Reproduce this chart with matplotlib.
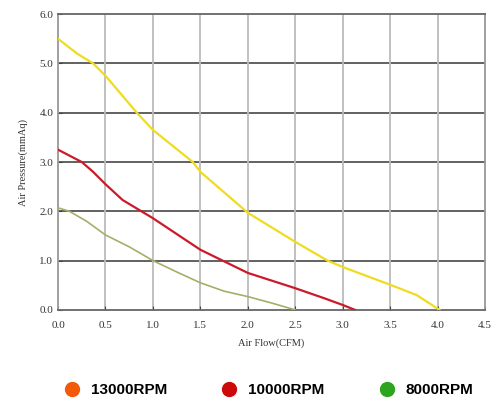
import matplotlib.pyplot as plt
from matplotlib.lines import Line2D

# Data
flow_13000 = [0.0, 0.2, 0.37, 0.5, 0.83, 1.0, 1.42, 1.5, 2.0, 2.5, 2.84, 3.0, 3.5, 3.78, 4.02]
pres_13000 = [5.5, 5.2, 5.0, 4.75, 4.0, 3.65, 3.0, 2.8, 1.97, 1.38, 1.0, 0.87, 0.51, 0.3, 0.0]

flow_10000 = [0.0, 0.1, 0.25, 0.37, 0.5, 0.68, 1.0, 1.5, 2.0, 2.5, 2.8, 3.0, 3.13]
pres_10000 = [3.25, 3.15, 3.0, 2.8, 2.55, 2.23, 1.86, 1.22, 0.75, 0.44, 0.24, 0.1, 0.0]

flow_8000 = [0.0, 0.12, 0.3, 0.5, 0.75, 1.0, 1.25, 1.5, 1.75, 2.0, 2.25, 2.5]
pres_8000 = [2.07, 2.0, 1.8, 1.52, 1.28, 1.0, 0.77, 0.55, 0.38, 0.27, 0.14, 0.0]

legend_labels = ['13000RPM', '10000RPM', '8000RPM']
legend_colors = ['#f25a0a', '#cc0a0a', '#2ea51e']

xticks = [0.0, 0.5, 1.0, 1.5, 2.0, 2.5, 3.0, 3.5, 4.0, 4.5]
yticks = [0.0, 1.0, 2.0, 3.0, 4.0, 5.0, 6.0]

fig = plt.figure(figsize=(4.96, 4.03), dpi=100)
ax = fig.add_axes([0.117, 0.231, 0.861, 0.734])

ax.plot(flow_13000, pres_13000, color='#f0dc1e', lw=1.6, zorder=3)
ax.plot(flow_10000, pres_10000, color='#cc1a2a', lw=1.6, zorder=3)
ax.plot(flow_8000, pres_8000, color='#a8ad6a', lw=1.2, zorder=3)

ax.set_xlim(0, 4.5)
ax.set_ylim(0, 6)
ax.set_xticks(xticks)
ax.set_yticks(yticks)
ax.set_xticklabels([f'{t:.1f}' for t in xticks])
ax.set_yticklabels([f'{t:.1f}' for t in yticks])

# horizontal grid dark, vertical grid light
for y in yticks[1:-1]:
    ax.axhline(y, color='#555555', lw=1.3, zorder=1)
for x in xticks[1:-1]:
    ax.axvline(x, color='#bbbbbb', lw=1.3, zorder=1)

for side in ['top', 'bottom']:
    ax.spines[side].set_color('#666666')
    ax.spines[side].set_linewidth(1.3)
for side in ['left', 'right']:
    ax.spines[side].set_color('#999999')
    ax.spines[side].set_linewidth(1.3)

ax.tick_params(direction='in', length=3, color='#444444', labelsize=8,
               labelcolor='#333333')
for lbl in ax.get_xticklabels() + ax.get_yticklabels():
    lbl.set_family('Liberation Serif')
ax.tick_params(axis='x', pad=8)

ax.set_xlabel('Air Flow(CFM)', family='Liberation Serif', fontsize=7.5, color='#333333', labelpad=6)
ax.set_ylabel('Air Pressure(mmAq)', family='Liberation Serif', fontsize=7.5, color='#333333', labelpad=8)

handles = [Line2D([], [], marker='o', ls='', markersize=10, markerfacecolor=c,
                  markeredgecolor=c) for c in legend_colors]
fig.legend(handles, legend_labels, loc='center', bbox_to_anchor=(0.534, 0.032), ncol=3,
           frameon=False, columnspacing=3.1, handletextpad=0.2,
           prop={'family': 'Liberation Sans', 'weight': 'bold', 'size': 11})

plt.savefig('out.png', dpi=100)
